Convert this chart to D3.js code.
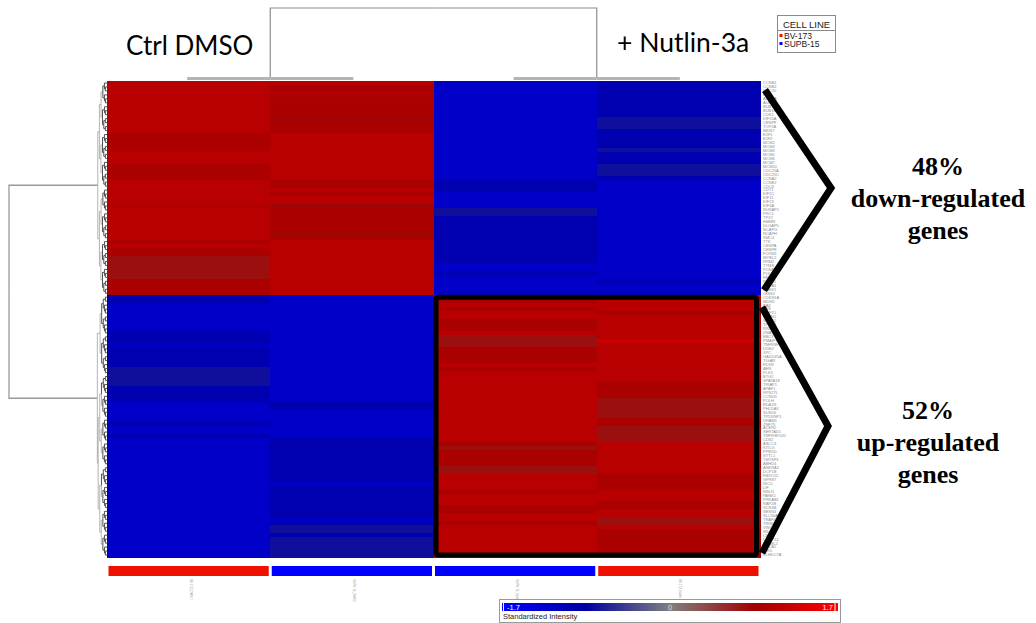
<!DOCTYPE html>
<html>
<head>
<meta charset="utf-8">
<script src="https://cdnjs.cloudflare.com/ajax/libs/d3/7.8.5/d3.min.js"></script>
<style>
  body { margin: 0; background: #fff; }
  svg { display: block; }
</style>
</head>
<body>
<svg id="chart" width="1036" height="623"></svg>
<script>
// ---- samples (heatmap columns) ----
const samples = ["BV-173_DMSO", "SUPB-15_DMSO", "SUPB-15_Nutlin-3a", "BV-173_Nutlin-3a"];
const sampleCellLine = ["BV-173", "SUPB-15", "SUPB-15", "BV-173"];
const cellLines = ["BV-173", "SUPB-15"];
const groupTitles = ["Ctrl DMSO", "+ Nutlin-3a"];

// ---- genes (heatmap rows), in cluster order ----
const downGenes = ["CCNB1","CCNB2","CDC20","PLK1","AURKA","AURKB","BUB1","BUB1B","CDK1","KIF20A",
  "CENPF","TOP2A","MKI67","E2F1","E2F2","MCM2","MCM3","MCM4","MCM5","MCM6","MCM7","MCM10",
  "CDC25A","CDC25C","CCNA2","CCNE2","CDC6","CDT1","KIF2C","KIF11","KIF23","KIF4A","NUSAP1",
  "PRC1","TPX2","HMMR","DLGAP5","NCAPG","NCAPH","SMC4","TTK","CENPA","CENPE","FOXM1","MYBL2",
  "RRM2","TYMS","PCNA","POLE2","FEN1","RAD51","BRCA1","CHEK1","GINS2"];
const upGenes = ["CDKN1A","MDM2","BAX","FAS","GDF15","SESN1","SESN2","TP53I3","RRM2B","ZMAT3",
  "BBC3","PMAIP1","TNFRSF10B","DDB2","XPC","GADD45A","TIGAR","FDXR","AEN","PLK3","BTG2",
  "SPATA18","TRIAP1","APAF1","RPS27L","CCNG1","POLH","EDA2R","PHLDA3","SUSD6","TP53INP1",
  "DRAM1","ZNF79","ACER2","SERTAD1","TNFRSF10D","CD82","ASCC3","KITLG","PPM1D","SYTL1",
  "TM7SF3","ABHD4","ANKRA2","DCP1B","FBXO22","GPR87","ISCU","LIF","NINJ1","PANK1","PRKAB1",
  "RAP2B","SCN3B","SESN3","SLC30A1","TRAF4","TRIM22","VWCE","WDR63","CMBL","DUSP14",
  "EPS8L2","FUCA1","IER5","KLHDC7A"];

// ---- standardized intensities, one array per sample (down genes, then up genes) ----
const ctrlBV173Down = [1.07,1.07,1.07,1.07,1.07,1.07,1.07,1.07,1.07,1.07,1.07,1.07,1.07,
  0.94,0.94,0.94,0.94, 1.00, 1.07,1.07,1.07, 0.94,0.94,0.94,0.94, 1.07,1.07,1.07,1.07,1.07,1.07,
  1.00, 1.07,1.07,1.07,1.07,1.07,1.07,1.07,1.07, 0.94,1.07,0.94,0.94,
  0.75,0.75,0.75,0.75,0.75,0.75, 0.94,0.94,0.94,0.94];
const ctrlBV173Up = [-0.99,-0.99, -1.21,-1.21,-1.21,-1.21,-1.21,-1.21,-1.21, -0.99,-0.99,-0.99,
  -1.21, -0.99,-0.99,-0.99,-0.99,-0.99, -0.75,-0.75,-0.75,-0.75,-0.75, -0.99,-0.99,-0.99,-0.99,
  -1.21,-1.21,-1.21,-1.21,-1.21, -0.99, -1.21,-1.21, -0.99,
  -1.21,-1.21,-1.21,-1.21,-1.21,-1.21,-1.21,-1.21,-1.21,-1.21,-1.21,-1.21,-1.21,-1.21,-1.21,
  -1.21,-1.21,-1.21,-1.21,-1.21,-1.21,-1.21,-1.21,-1.21,-1.21,-1.21,-1.21,-1.21,-1.21,-1.21];

const ctrlSUPB15Down = [1.07, 0.94,0.94, 1.00, 0.94,0.94,0.94,0.94,0.94, 0.82, 0.94,0.94,0.94,
  1.07,1.07,1.07,1.07,1.07,1.07,1.07,1.07,1.07,1.07,1.07,1.07, 0.94,0.94, 1.07, 0.94, 1.07,1.07,
  0.82, 0.94,0.94,0.94,0.94,0.94,0.94, 0.82, 0.94,
  1.07,1.07,1.07,1.07,1.07,1.07,1.07,1.07,1.07,1.07,1.07,1.07,1.07,1.07];
const ctrlSUPB15Up = [-1.21,-1.21,-1.21,-1.21,-1.21,-1.21,-1.21,-1.21,-1.21,-1.21,-1.21,-1.21,
  -1.21,-1.21,-1.21,-1.21,-1.21,-1.21,-1.21,-1.21,-1.21,-1.21,-1.21,-1.21,-1.21,-1.21,-1.21,
  -0.99,-0.99, -1.21,-1.21,-1.21,-1.21,-1.21,-1.21,-1.21,
  -0.99,-0.99,-0.99,-0.99,-0.99,-0.99,-0.99,-0.99,-0.99,-0.99,-0.99, -1.21,
  -0.99,-0.99,-0.99,-0.99,-0.99,-0.99,-0.99,-0.99, -1.21, -0.99, -0.75,-0.75, -0.99,
  -0.75,-0.75,-0.75,-0.75,-0.75];

const nutSUPB15Down = [-1.21,-1.21,-1.21,-1.21,-1.21,-1.21,-1.21,-1.21,-1.21,-1.21,-1.21,-1.21,
  -1.21,-1.21,-1.21,-1.21,-1.21,-1.21,-1.21,-1.21,-1.21,-1.21,-1.21,-1.21,-1.21,
  -0.99,-0.99,-0.99, -1.21,-1.21,-1.21,-1.21, -0.75,-0.75,
  -0.99,-0.99,-0.99,-0.99,-0.99,-0.99,-0.99,-0.99,-0.99,-0.99,-0.99,-0.99,
  -1.21,-1.21, -0.99, -1.21,-1.21,-1.21,-1.21,-1.21];
const nutSUPB15Up = [1.07,0.94,1.07,0.94, 1.07,1.07, 0.94,0.94,0.94, 1.07, 0.75,0.75,0.75,
  0.94,0.94,0.94,0.94, 1.07, 0.94,
  1.07,1.07,1.07,1.07,1.07,1.07,1.07,1.07,1.07,1.07,1.07,1.07,1.07,1.07,1.07,1.07,1.07,1.07,
  0.94, 0.75, 0.94,0.94,0.94,0.94, 0.75,0.75, 1.07,1.07,1.07,1.07, 0.94, 1.07,1.07,1.07,
  0.94,0.94, 1.07,1.07, 0.94, 1.07,1.07,1.07,1.07,1.07,1.07,1.07,1.07];

const nutBV173Down = [-0.99,-0.99,-0.99,-0.99,-0.99,-0.99,-0.99,-0.99,-0.99, -0.75,-0.75,-0.75,
  -0.99,-0.99,-0.99,-0.99,-0.99, -0.75, -0.99,-0.99,-0.99, -0.75,-0.75,-0.75, -0.99,
  -1.21,-1.21,-1.21,-1.21,-1.21,-1.21,-1.21,-1.21,-1.21,-1.21,-1.21,-1.21,-1.21,-1.21,-1.21,
  -1.21,-1.21,-1.21,-1.21,-1.21,-1.21,-1.21,-1.21,-1.21,-1.21, -0.99, -1.21,-1.21,-1.21];
const nutBV173Up = [1.07,1.07,1.07,1.07, 0.94, 1.07,1.07,1.07,1.07,1.07,1.07, 1.21,
  1.07,1.07,1.07,1.07,1.07,1.07,1.07,1.07,1.07,1.07, 0.94,0.94,0.94,0.94,
  0.75,0.75,0.75,0.75,0.75, 0.94,0.94, 0.75,0.75,0.75,0.75,
  1.07,1.07,1.07,1.07,1.07,1.07,1.07,1.07, 0.94,0.94,0.94,0.94, 1.07,1.07,1.07, 0.94,0.94,
  1.07,1.07, 0.75,0.75, 1.07, 0.94,0.94,0.94,0.94,0.94,0.94,0.94];

// sub-branch sizes of the two gene clusters in the row dendrogram
const subclusterSizes = [[27, 27], [20, 46]];
// merge heights of the sample dendrogram (pairs, then root)
const sampleMergeHeights = [0.02, 0.02, 1];

const clusterShares = ["48%", "52%"];
const clusterLabels = [["down-regulated", "genes"], ["up-regulated", "genes"]];
const scaleTicks = [-1.7, 0, 1.7];
const scaleTitle = "Standardized Intensity";

// ------------------------------------------------------------------
const svg = d3.select("#chart");
const genes = downGenes.concat(upGenes);
const columns = [
  ctrlBV173Down.concat(ctrlBV173Up),
  ctrlSUPB15Down.concat(ctrlSUPB15Up),
  nutSUPB15Down.concat(nutSUPB15Up),
  nutBV173Down.concat(nutBV173Up)
];

const x = d3.scaleBand().domain(samples).range([107, 760]);
const y = d3.scaleBand().domain(genes).range([81, 557]);
const color = d3.scaleLinear()
  .domain([-1.7, -0.85, 0, 0.85, 1.7])
  .range(["#0000ff", "#0000a0", "#808080", "#a00000", "#ff0000"])
  .clamp(true);
const lineColor = d3.scaleOrdinal().domain(cellLines).range(["#ee1100", "#0000ff"]);

// heatmap cells
const cells = [];
samples.forEach((s, j) => genes.forEach((g, i) => cells.push({ s, g, v: columns[j][i] })));
svg.append("g").attr("shape-rendering", "crispEdges")
  .selectAll("rect").data(cells).join("rect")
  .attr("x", d => x(d.s))
  .attr("y", d => y(d.g))
  .attr("width", x.bandwidth() + 0.5)
  .attr("height", y.bandwidth() + 0.6)
  .attr("fill", d => color(d.v));

// ---- sample dendrogram (top) ----
const hY = d3.scaleLinear().domain([0, 1]).range([80, 8]);
const colTree = d3.hierarchy({
  h: sampleMergeHeights[2],
  children: [
    { h: sampleMergeHeights[0], children: [{ s: samples[0] }, { s: samples[1] }] },
    { h: sampleMergeHeights[1], children: [{ s: samples[2] }, { s: samples[3] }] }
  ]
});
colTree.eachAfter(n => {
  if (!n.children) { n.px = x(n.data.s) + x.bandwidth() / 2; n.py = hY(0); }
  else { n.px = d3.mean(n.children, c => c.px); n.py = hY(n.data.h); }
});
svg.append("g").attr("fill", "none")
  .selectAll("path").data(colTree.links()).join("path")
  .attr("d", l => `M${l.target.px},${l.target.py}V${l.source.py}H${l.source.px}`)
  .attr("stroke", l => l.source.depth === 0 ? "#8c8c8c" : "#b4b4b4")
  .attr("stroke-width", l => l.source.depth === 0 ? 1.2 : 3);

// ---- gene dendrogram (left) ----
function bisect(lo, hi) {
  if (hi - lo === 1) return { gene: genes[lo] };
  const mid = Math.floor((lo + hi) / 2);
  return { children: [bisect(lo, mid), bisect(mid, hi)] };
}
function geneCluster(lo, sizes) {
  return { children: [bisect(lo, lo + sizes[0]), bisect(lo + sizes[0], lo + sizes[0] + sizes[1])] };
}
const rowTree = d3.hierarchy({
  children: [geneCluster(0, subclusterSizes[0]), geneCluster(downGenes.length, subclusterSizes[1])]
}).count();
const leafX = x.range()[0];
rowTree.eachAfter(n => {
  if (!n.children) { n.py = y(n.data.gene) + y.bandwidth() / 2; n.px = leafX; }
  else {
    n.py = d3.mean(n.children, c => c.py);
    n.px = n.parent ? leafX - 1.6 * Math.log2(n.value) : 9;
  }
});
svg.append("g").attr("fill", "none")
  .selectAll("path").data(rowTree.links()).join("path")
  .attr("d", l => `M${l.target.px},${l.target.py}H${l.source.px}V${l.source.py}`)
  .attr("stroke", l => l.source.depth === 0 ? "#9a9a9a" : (l.target.value >= 6 ? "#a0a0a0" : "#2a2a2a"))
  .attr("stroke-width", l => l.source.depth === 0 ? 1.3 : 0.8);

// ---- gene labels (right) ----
svg.append("g")
  .attr("font-family", "Liberation Sans, Arial, sans-serif")
  .attr("font-size", 4).attr("fill", "#8a8a8a")
  .selectAll("text").data(genes).join("text")
  .attr("x", 763)
  .attr("y", g => y(g) + y.bandwidth() / 2 + 1.4)
  .text(g => g);

// ---- cell line colour bar + sample labels ----
const bars = svg.append("g");
bars.selectAll("rect").data(samples).join("rect")
  .attr("x", s => x(s) + 1.5)
  .attr("y", 566)
  .attr("width", x.bandwidth() - 3)
  .attr("height", 10)
  .attr("fill", (s, i) => lineColor(sampleCellLine[i]));
bars.selectAll("text").data(samples).join("text")
  .attr("transform", s => `translate(${x(s) + x.bandwidth() / 2 + 1},579) rotate(90)`)
  .attr("font-family", "Liberation Sans, Arial, sans-serif")
  .attr("font-size", 3).attr("fill", "#999")
  .text(s => s);

// ---- up-regulated block outline ----
const boxTop = y(upGenes[0]);
const boxBottom = y(upGenes[upGenes.length - 1]) + y.bandwidth();
svg.append("rect")
  .attr("x", x(samples[2]) + 2.5)
  .attr("y", boxTop + 2)
  .attr("width", x(samples[3]) + x.bandwidth() - x(samples[2]) - 6)
  .attr("height", boxBottom - boxTop - 4)
  .attr("rx", 2)
  .attr("fill", "none").attr("stroke", "#000").attr("stroke-width", 5);

// ---- cluster brackets ----
const downTop = y(downGenes[0]);
const downBottom = y(downGenes[downGenes.length - 1]) + y.bandwidth();
const brackets = [
  [[765, downTop + 9], [831, (downTop + downBottom) / 2], [764, downBottom - 5]],
  [[762, boxTop + 12], [828, (boxTop + boxBottom) / 2], [762, boxBottom - 4]]
];
svg.append("g").selectAll("path").data(brackets).join("path")
  .attr("d", d3.line())
  .attr("fill", "none").attr("stroke", "#000")
  .attr("stroke-width", 7).attr("stroke-linejoin", "miter");

// ---- cluster annotations ----
const annot = svg.append("g")
  .attr("font-family", "Liberation Serif, Times New Roman, serif")
  .attr("font-weight", "bold").attr("font-size", 26)
  .attr("text-anchor", "middle").attr("fill", "#000");
const annotPos = [{ cx: 938, base: 175 }, { cx: 928, base: 419 }];
clusterShares.forEach((share, i) => {
  const lines = [share].concat(clusterLabels[i]);
  lines.forEach((t, k) => {
    annot.append("text")
      .attr("x", annotPos[i].cx)
      .attr("y", annotPos[i].base + k * 32)
      .text(t);
  });
});

// ---- group titles ----
const titles = svg.append("g")
  .attr("font-family", "Lato, 'Open Sans', sans-serif")
  .attr("font-size", 26).attr("fill", "#000");
titles.append("text").attr("x", 126).attr("y", 55).text(groupTitles[0]);
titles.append("text").attr("x", 617).attr("y", 52).attr("font-size", 26.5).text(groupTitles[1]);

// ---- cell line legend ----
const lg = svg.append("g").attr("font-family", "Liberation Sans, Arial, sans-serif");
lg.append("rect").attr("x", 777.5).attr("y", 15.5).attr("width", 58).attr("height", 37)
  .attr("fill", "#fff").attr("stroke", "#8a8a8a");
lg.append("line").attr("x1", 777.5).attr("x2", 835.5).attr("y1", 30.5).attr("y2", 30.5)
  .attr("stroke", "#8a8a8a");
lg.append("text").attr("x", 806.5).attr("y", 28).attr("text-anchor", "middle")
  .attr("font-size", 9.5).attr("fill", "#222").text("CELL LINE");
cellLines.forEach((c, i) => {
  lg.append("rect").attr("x", 779.5).attr("y", 34 + i * 8).attr("width", 3).attr("height", 3)
    .attr("fill", lineColor(c));
  lg.append("text").attr("x", 784).attr("y", 38.5 + i * 8.5)
    .attr("font-size", 8.5).attr("fill", "#222").text(c);
});

// ---- intensity colour scale ----
const defs = svg.append("defs");
const grad = defs.append("linearGradient").attr("id", "intensityGrad");
const sx = d3.scaleLinear().domain([scaleTicks[0], scaleTicks[2]]).range([502, 838]);
d3.range(0, 1.0001, 0.05).forEach(t => {
  grad.append("stop").attr("offset", t)
    .attr("stop-color", color(scaleTicks[0] + t * (scaleTicks[2] - scaleTicks[0])));
});
const cs = svg.append("g").attr("font-family", "Liberation Sans, Arial, sans-serif");
cs.append("rect").attr("x", 499.5).attr("y", 599.5).attr("width", 341).attr("height", 23)
  .attr("fill", "#fff").attr("stroke", "#999");
cs.append("rect").attr("x", sx.range()[0]).attr("y", 603)
  .attr("width", sx.range()[1] - sx.range()[0]).attr("height", 8)
  .attr("fill", "url(#intensityGrad)");
cs.selectAll("line.edge").data([scaleTicks[0], scaleTicks[2]]).join("line")
  .attr("class", "edge")
  .attr("x1", v => sx(v) + (v < 0 ? 1.5 : -3)).attr("x2", v => sx(v) + (v < 0 ? 1.5 : -3))
  .attr("y1", 602).attr("y2", 612)
  .attr("stroke", "#f4f4f4").attr("stroke-width", 1);
cs.selectAll("text.tick").data(scaleTicks).join("text")
  .attr("class", "tick")
  .attr("x", v => v < 0 ? sx(v) + 5 : (v > 0 ? sx(v) - 5 : sx(v)))
  .attr("y", 610)
  .attr("text-anchor", v => v < 0 ? "start" : (v > 0 ? "end" : "middle"))
  .attr("font-size", 7.5)
  .attr("fill", v => v === 0 ? "#dddddd" : "#ffffff")
  .text(v => v === 0 ? "0" : d3.format(".1f")(v).replace("−", "-"));
cs.append("text").attr("x", 503).attr("y", 618.5)
  .attr("font-size", 7.5).attr("fill", "#222").text(scaleTitle);
</script>
</body>
</html>
